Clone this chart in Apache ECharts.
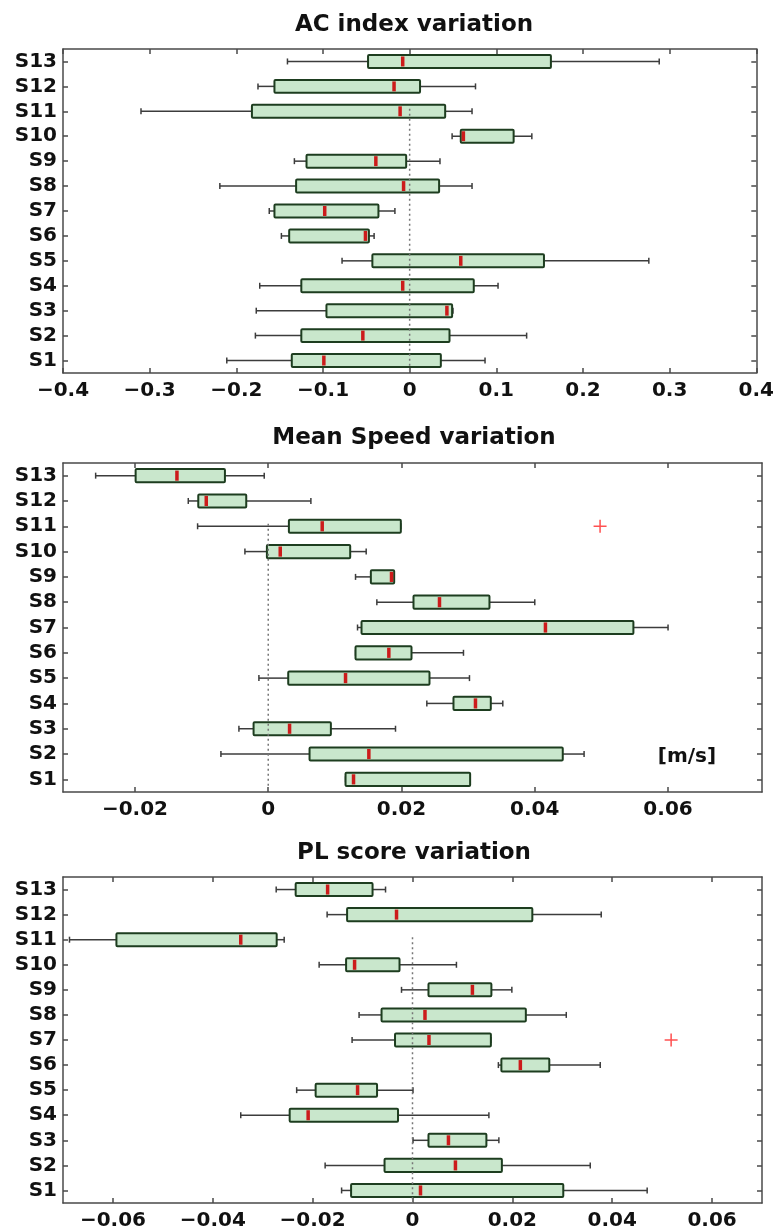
<!DOCTYPE html>
<html>
<head>
<meta charset="utf-8">
<title>variation boxplots</title>
<script src="https://cdn.jsdelivr.net/npm/echarts@6/dist/echarts.min.js"></script>
<style>
  html, body { margin: 0; padding: 0; background: #fff; }
  #main { width: 777px; height: 1232px; }
</style>
</head>
<body>
<div id="main"></div>
<script>
// subjects, bottom to top
var subjects = ['S1', 'S2', 'S3', 'S4', 'S5', 'S6', 'S7', 'S8', 'S9', 'S10', 'S11', 'S12', 'S13'];

// AC index variation (S1..S13): whisker low, q1, median, q3, whisker high
var acLow  = [-0.211, -0.178, -0.177, -0.173, -0.078, -0.148, -0.162, -0.219, -0.133, 0.049, -0.310, -0.175, -0.141];
var acQ1   = [-0.136, -0.125, -0.096, -0.125, -0.043, -0.139, -0.156, -0.131, -0.119, 0.059, -0.182, -0.156, -0.048];
var acMed  = [-0.099, -0.054, 0.043, -0.008, 0.059, -0.051, -0.098, -0.007, -0.039, 0.062, -0.011, -0.018, -0.008];
var acQ3   = [0.036, 0.046, 0.049, 0.074, 0.155, -0.047, -0.036, 0.034, -0.004, 0.120, 0.041, 0.012, 0.163];
var acHigh = [0.087, 0.135, 0.050, 0.102, 0.276, -0.041, -0.017, 0.072, 0.035, 0.141, 0.072, 0.076, 0.288];
var acTicks = [-0.4, -0.3, -0.2, -0.1, 0, 0.1, 0.2, 0.3, 0.4];
var acOutliers = [];

// Mean Speed variation [m/s]
var spLow  = [0.0116, -0.0071, -0.0044, 0.0238, -0.0014, 0.0131, 0.0134, 0.0163, 0.0131, -0.0035, -0.0106, -0.0120, -0.0259];
var spQ1   = [0.0116, 0.0062, -0.0022, 0.0278, 0.0030, 0.0131, 0.0140, 0.0218, 0.0154, -0.0002, 0.0031, -0.0105, -0.0199];
var spMed  = [0.0128, 0.0151, 0.0032, 0.0311, 0.0116, 0.0181, 0.0416, 0.0257, 0.0185, 0.0018, 0.0081, -0.0093, -0.0137];
var spQ3   = [0.0303, 0.0442, 0.0094, 0.0334, 0.0242, 0.0215, 0.0548, 0.0332, 0.0189, 0.0123, 0.0199, -0.0033, -0.0065];
var spHigh = [0.0303, 0.0474, 0.0191, 0.0352, 0.0302, 0.0293, 0.0600, 0.0400, 0.0189, 0.0147, 0.0199, 0.0064, -0.0006];
var spTicks = [-0.02, 0, 0.02, 0.04, 0.06];
var spOutliers = [[0.0498, 11]];

// PL score variation
var plLow  = [-0.0142, -0.0175, 0.0001, -0.0344, -0.0232, 0.0172, -0.0121, -0.0107, -0.0022, -0.0187, -0.0687, -0.0171, -0.0273];
var plQ1   = [-0.0123, -0.0056, 0.0032, -0.0246, -0.0194, 0.0178, -0.0035, -0.0062, 0.0032, -0.0133, -0.0593, -0.0131, -0.0234];
var plMed  = [0.0016, 0.0086, 0.0072, -0.0209, -0.0110, 0.0216, 0.0033, 0.0025, 0.0120, -0.0116, -0.0344, -0.0032, -0.0170];
var plQ3   = [0.0302, 0.0179, 0.0148, -0.0029, -0.0071, 0.0274, 0.0157, 0.0227, 0.0158, -0.0026, -0.0272, 0.0240, -0.0080];
var plHigh = [0.0470, 0.0356, 0.0173, 0.0153, 0.0001, 0.0376, 0.0157, 0.0308, 0.0199, 0.0088, -0.0257, 0.0378, -0.0054];
var plTicks = [-0.06, -0.04, -0.02, 0, 0.02, 0.04, 0.06];
var plOutliers = [[0.0518, 7]];

var rowTicks = [1, 2, 3, 4, 5, 6, 7, 8, 9, 10, 11, 12, 13];
var zeroLineY = [11.1, 0.5];

var panels = [
  { title: 'AC index variation', low: acLow, q1: acQ1, med: acMed, q3: acQ3, high: acHigh,
    ticks: acTicks, outliers: acOutliers, min: -0.4, max: 0.4, top: 49, height: 324, titleY: 25 },
  { title: 'Mean Speed variation', low: spLow, q1: spQ1, med: spMed, q3: spQ3, high: spHigh,
    ticks: spTicks, outliers: spOutliers, min: -0.0308, max: 0.0741, top: 463, height: 329, titleY: 438 },
  { title: 'PL score variation', low: plLow, q1: plQ1, med: plMed, q3: plQ3, high: plHigh,
    ticks: plTicks, outliers: plOutliers, min: -0.07, max: 0.07, top: 877, height: 326, titleY: 853 }
];

var FONT = 'DejaVu Sans';
var frame = { color: '#4a4a4a', width: 1.5 };

function fmtTick(v) {
  if (v === 0) return '0';
  return String(+v.toFixed(4)).replace('-', '\u2212');
}

// box + whiskers + red median, drawn horizontally
function renderBox(params, api) {
  var yv = api.value(0);
  var lo = api.coord([api.value(1), yv]);
  var q1 = api.coord([api.value(2), yv]);
  var md = api.coord([api.value(3), yv]);
  var q3 = api.coord([api.value(4), yv]);
  var hi = api.coord([api.value(5), yv]);
  var y = lo[1];
  var h = api.size([0, 1])[1] * 0.26;
  var cap = 3;
  var wStyle = { stroke: '#3c3c3c', lineWidth: 1.5 };
  return {
    type: 'group',
    children: [
      { type: 'line', shape: { x1: lo[0], y1: y, x2: q1[0], y2: y }, style: wStyle },
      { type: 'line', shape: { x1: q3[0], y1: y, x2: hi[0], y2: y }, style: wStyle },
      { type: 'line', shape: { x1: lo[0], y1: y - cap, x2: lo[0], y2: y + cap }, style: wStyle },
      { type: 'line', shape: { x1: hi[0], y1: y - cap, x2: hi[0], y2: y + cap }, style: wStyle },
      { type: 'rect', shape: { x: q1[0], y: y - h, width: q3[0] - q1[0], height: 2 * h, r: 1 },
        style: { fill: '#c9e7cc', stroke: '#1d3d1f', lineWidth: 2 } },
      { type: 'line', shape: { x1: md[0], y1: y - h + 1.5, x2: md[0], y2: y + h - 1.5 },
        style: { stroke: '#cc1b1b', lineWidth: 3.5 } }
    ]
  };
}

var grids = [], xAxes = [], yAxes = [], series = [], graphics = [];

panels.forEach(function (p, i) {
  grids.push({ left: 63, width: 699, top: p.top, height: p.height });

  xAxes.push({
    type: 'value', gridIndex: i, min: p.min, max: p.max, position: 'bottom',
    axisLine: { show: true, onZero: false, lineStyle: frame },
    axisTick: { show: true, inside: true, length: 5, customValues: p.ticks, lineStyle: frame },
    axisLabel: { customValues: p.ticks, formatter: fmtTick, margin: 8,
      fontFamily: FONT, fontWeight: 'bold', fontSize: 20, color: '#111' },
    splitLine: { show: false }
  });
  xAxes.push({
    type: 'value', gridIndex: i, min: p.min, max: p.max, position: 'top',
    axisLine: { show: true, onZero: false, lineStyle: frame },
    axisTick: { show: true, inside: true, length: 5, customValues: p.ticks, lineStyle: frame },
    axisLabel: { show: false },
    splitLine: { show: false }
  });
  yAxes.push({
    type: 'value', gridIndex: i, min: 0.5, max: 13.5, position: 'left',
    axisLine: { show: true, onZero: false, lineStyle: frame },
    axisTick: { show: true, inside: true, length: 5, customValues: rowTicks, lineStyle: frame },
    axisLabel: { customValues: rowTicks, margin: 6,
      formatter: function (v) { return subjects[Math.round(v) - 1]; },
      fontFamily: FONT, fontWeight: 'bold', fontSize: 20, color: '#111' },
    splitLine: { show: false }
  });
  yAxes.push({
    type: 'value', gridIndex: i, min: 0.5, max: 13.5, position: 'right',
    axisLine: { show: true, onZero: false, lineStyle: frame },
    axisTick: { show: true, inside: true, length: 5, customValues: rowTicks, lineStyle: frame },
    axisLabel: { show: false },
    splitLine: { show: false }
  });

  var rows = subjects.map(function (s, k) {
    return [k + 1, p.low[k], p.q1[k], p.med[k], p.q3[k], p.high[k]];
  });

  series.push({
    type: 'custom', xAxisIndex: 2 * i, yAxisIndex: 2 * i,
    renderItem: renderBox,
    encode: { x: [1, 2, 3, 4, 5], y: 0 },
    data: rows, z: 2, silent: true
  });
  series.push({
    type: 'line', xAxisIndex: 2 * i, yAxisIndex: 2 * i,
    data: [[0, zeroLineY[0]], [0, zeroLineY[1]]],
    symbol: 'none', silent: true, z: 3,
    lineStyle: { type: [2, 3], color: '#777', width: 1.5 }
  });
  if (p.outliers.length) {
    series.push({
      type: 'scatter', xAxisIndex: 2 * i, yAxisIndex: 2 * i,
      data: p.outliers, silent: true, z: 4,
      symbol: 'path://M0,5.3 H12 V6.7 H0 Z M5.3,0 H6.7 V12 H5.3 Z',
      symbolSize: 13,
      itemStyle: { color: '#ff2626' }
    });
  }

  graphics.push({
    type: 'text', x: 414, y: p.titleY,
    style: { text: p.title, font: 'bold 23px "DejaVu Sans"', fill: '#111',
      textAlign: 'center', textVerticalAlign: 'middle', align: 'center', verticalAlign: 'middle' }
  });
});

graphics.push({
  type: 'text', x: 687, y: 757,
  style: { text: '[m/s]', font: 'bold 20px "DejaVu Sans"', fill: '#111',
    textAlign: 'center', textVerticalAlign: 'middle', align: 'center', verticalAlign: 'middle' }
});

var option = {
  animation: false,
  backgroundColor: '#fff',
  grid: grids,
  xAxis: xAxes,
  yAxis: yAxes,
  series: series,
  graphic: graphics
};

var myChart = echarts.init(document.getElementById('main'));
myChart.setOption(option);
</script>
</body>
</html>
